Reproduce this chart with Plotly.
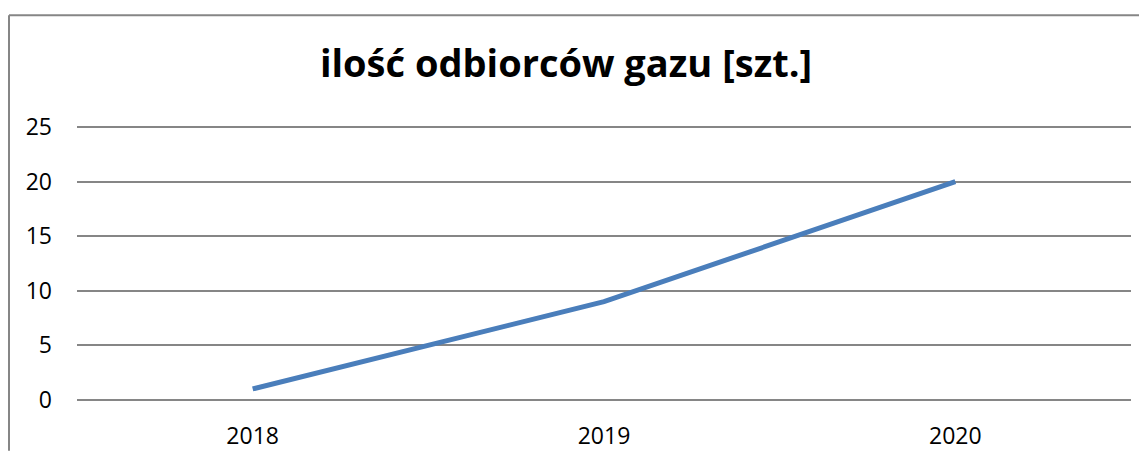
import plotly.graph_objects as go

years = ["2018", "2019", "2020"]
customers = [1, 9, 20]
title_text = "ilość odbiorców gazu [szt.]"

SCREEN_W, SCREEN_H = 1147, 459
OFF = 8  # page body margin
W, H = SCREEN_W - OFF, SCREEN_H - 2 * OFF
PX_PER = (400 - 127) / 25.0
PAD = 0.2
plot_left, plot_right = 77 - OFF, 1131 - OFF
plot_top = 127 - PAD * PX_PER - OFF
plot_bottom = 400 + PAD * PX_PER - OFF
L, R, T, B = plot_left, W - plot_right, plot_top, H - plot_bottom
pw, ph = plot_right - plot_left, plot_bottom - plot_top

fig = go.Figure()
fig.add_trace(go.Scatter(
    x=years, y=customers, mode="lines",
    line=dict(color="#4A7EBB", width=5),
    hoverinfo="skip", showlegend=False,
))

def px2x(px):
    return (px - OFF - L) / pw

def py2y(py):
    return (plot_bottom - (py - OFF)) / ph

border = dict(color="#868686", width=2)
# chart-area frame: only its left and top edges fall inside the picture
fig.add_shape(type="line", xref="paper", yref="paper",
              x0=px2x(9), x1=px2x(9), y0=py2y(SCREEN_H - OFF), y1=py2y(15),
              line=border, layer="below")
fig.add_shape(type="line", xref="paper", yref="paper",
              x0=px2x(9), x1=px2x(SCREEN_W), y0=py2y(15), y1=py2y(15),
              line=border, layer="below")

fig.update_layout(
    width=W, height=H,
    margin=dict(l=L, r=R, t=T, b=B, autoexpand=False),
    paper_bgcolor="white", plot_bgcolor="white",
    font=dict(family="Open Sans", color="black"),
    title=dict(text=title_text, x=(566 - OFF) / W, xanchor="center",
               y=1 - (64 - OFF) / H, yanchor="middle", yref="container",
               font=dict(size=38, family="Open Sans", weight="bold", color="black")),
    xaxis=dict(type="category", range=[-0.5, 2.5], showgrid=False, zeroline=False,
               showline=False, ticks="", tickfont=dict(size=23),
               ticklabelstandoff=18, automargin=False),
    yaxis=dict(range=[-PAD, 25 + PAD], dtick=5, tick0=0, showgrid=True, gridcolor="#868686",
               gridwidth=1.5, zeroline=False, showline=False, ticks="",
               tickfont=dict(size=23), ticklabelstandoff=24, automargin=False),
)

fig.write_html("out.html")
